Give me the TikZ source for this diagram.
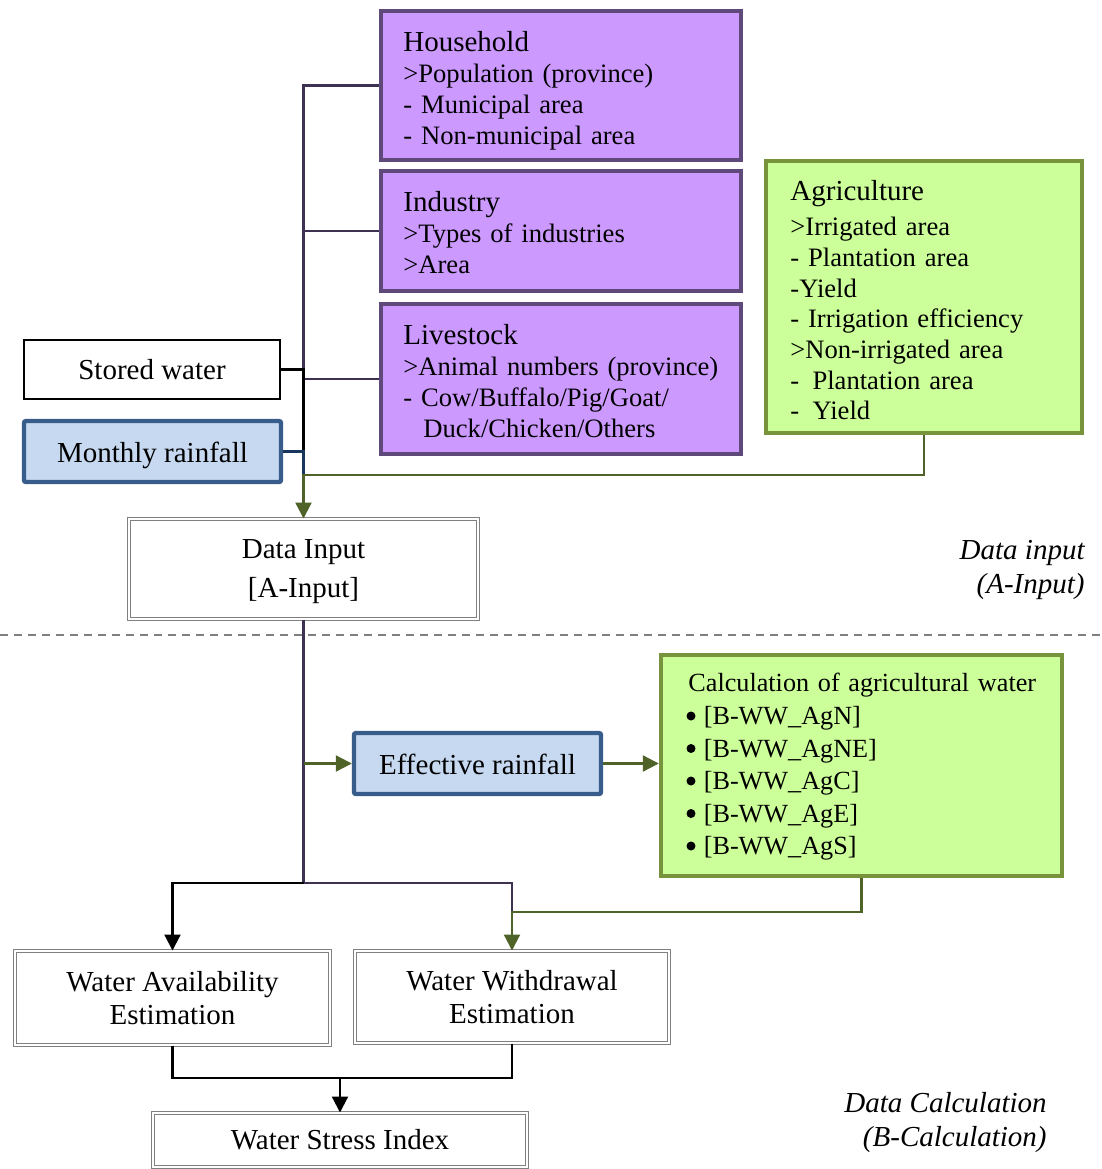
\documentclass[tikz,border=0pt]{standalone}
\usepackage{fontspec}
\setmainfont{Liberation Serif}
\usetikzlibrary{arrows.meta}
\definecolor{pfill}{HTML}{CC99FF}
\definecolor{pdraw}{HTML}{5F497A}
\definecolor{gfill}{HTML}{CCFF99}
\definecolor{gdraw}{HTML}{77933C}
\definecolor{bfill}{HTML}{C6D9F1}
\definecolor{bdraw}{HTML}{385D8A}
\definecolor{plinec}{HTML}{3F3151}
\definecolor{nlinec}{HTML}{17375E}
\definecolor{glinec}{HTML}{4F6228}
\newcommand\fsbig{\fontsize{14.5}{16.5}\selectfont}
\newcommand\fssmall{\fontsize{13.3}{15.5}\selectfont}
\newcommand\bul{\hspace*{8.7pt}}
\begin{document}
\begin{tikzpicture}[x=0.5pt,y=-0.5pt,
  every node/.style={inner ysep=0pt},
  pbox/.style={draw=pdraw,fill=pfill,line width=2.2pt,minimum width=180pt},
  gbox/.style={draw=gdraw,fill=gfill,line width=2.2pt},
  bbox/.style={draw=bdraw,fill=bfill,line width=2.2pt,rounded corners=1pt},
  kbox/.style={draw=black,fill=white,line width=1pt,align=center,font=\fsbig},
  wbox/.style={draw=gray,double=white,line width=0.5pt,double distance=0.7pt,align=center,font=\fsbig},
  btext/.style={inner sep=0pt,align=left,anchor=west,font=\fssmall},
  ctext/.style={inner sep=0pt,align=center,font=\fsbig},
  dot/.style={fill=black},
  conn/.style={line width=1.1pt},
  pl/.style={conn,draw=plinec},
  kl/.style={conn,draw=black},
  nl/.style={conn,draw=nlinec},
  gl/.style={conn,draw=glinec},
  tip/.style={-{Triangle[length=8pt,width=8pt]}},
  side/.style={inner sep=0pt,align=right,font=\fontsize{14.5}{17}\selectfont\itshape,anchor=east}
]
\useasboundingbox (0,0) rectangle (1102,1169);

% input boxes
\node[pbox,minimum height=74.5pt] (hh) at (561,85.5) {};
\node[btext,text width=158pt] (hht) at (403,90.5)
  {{\fsbig Household}\\[0pt] >Population (province)\\ - Municipal area\\ - Non-municipal area};
\node[pbox,minimum height=60pt] (ind) at (561,231) {};
\node[btext,text width=158pt] (indt) at (403,233)
  {{\fsbig Industry}\\[0pt] >Types of industries\\ >Area};
\node[pbox,minimum height=75pt] (ls) at (561,379) {};
\node[btext,text width=158pt] (lst) at (403,381)
  {{\fsbig Livestock}\\[0pt] >Animal numbers (province)\\ - Cow/Buffalo/Pig/Goat/\\ \hspace*{10pt}Duck/Chicken/Others};
\node[gbox,minimum width=158pt,minimum height=136pt] (ag) at (924,297) {};
\node[btext,text width=140pt,font=\fontsize{13.3}{15.33}\selectfont] (agt) at (790,300)
  {{\fsbig Agriculture}\\[2.5pt] >Irrigated area\\ - Plantation area\\ -Yield\\ - Irrigation efficiency\\ >Non-irrigated area\\ - \,Plantation area\\ - \,Yield};
\node[kbox,minimum width=128pt,minimum height=29.5pt] (sw) at (152,369.5) {Stored water};
\node[bbox,minimum width=128.5pt,minimum height=30.5pt] (mr) at (152.5,451.5) {};
\node[ctext] (mrt) at (152.5,455) {Monthly rainfall};

\node[wbox,minimum width=174.5pt,minimum height=50pt] (di) at (303.5,569) {};
\node[ctext,font=\fontsize{14.5}{19.5}\selectfont] (dit) at (303.5,572) {Data Input\\ {[A-Input]}};

\draw[gray,line width=0.75pt,dash pattern=on 4pt off 3pt] (0,635) -- (1102,635);

\node[side] (lab1) at (1085,570) {Data input\\ (A-Input)};

% calculation boxes
\node[bbox,minimum width=123.5pt,minimum height=30.5pt] (er) at (477.5,763.5) {};
\node[ctext] (ert) at (477.5,764.5) {Effective rainfall};
\node[gbox,minimum width=200.5pt,minimum height=110.5pt] (calc) at (861.5,765.5) {};
\node[btext,text width=180pt,font=\fontsize{13.1}{16.3}\selectfont] (calct) at (686,767)
  {\hspace*{1pt}Calculation of agricultural water\\ \bul[B-WW\_AgN]\\ \bul[B-WW\_AgNE]\\ \bul[B-WW\_AgC]\\ \bul[B-WW\_AgE]\\ \bul[B-WW\_AgS]};
\foreach \yy in {716,748.5,781,813.5,846}
  \fill[dot] (691,\yy) circle (2.25pt);

\node[wbox,minimum width=157.5pt,minimum height=47pt,font=\fontsize{14.5}{16.5}\selectfont] (wa) at (172.5,998) {Water Availability\\ Estimation};
\node[wbox,minimum width=157pt,minimum height=46pt,font=\fontsize{14.5}{16.5}\selectfont] (ww) at (512,997) {Water Withdrawal\\ Estimation};
\node[wbox,minimum width=187pt,minimum height=27pt] (wsi) at (340,1140) {Water Stress Index};

\node[side] (lab2) at (1047,1123) {Data Calculation\\ (B-Calculation)};

% junctions
\coordinate (jA) at (303.5,475);
\coordinate (jB) at (303.5,883);
\coordinate (jC) at (512,912);
\coordinate (jD) at (340,1078);

% input connectors
\draw[pl] (hh.west) -| (ls.west -| di.north);
\draw[pl] (ind.west) -- (ind.west -| di.north);
\draw[pl] (ls.west) -- (ls.west -| di.north);
\draw[kl] (sw.east) -| (mr.east -| di.north);
\draw[nl] (mr.east) -| (jA);
\draw[gl,tip] (ag.south) |- (jA) -- (di.north);

% calculation connectors
\draw[pl] (di.south) -- (jB) -| (jC);
\draw[kl,tip] (jB) -| (wa.north);
\draw[gl,tip] (calc.south) |- (jC) -- (ww.north);
\draw[gl,tip] (di.south |- er.west) -- (er.west);
\draw[gl,tip] (er.east) -- (er.east -| calc.west);
\draw[kl] (wa.south) |- (jD);
\draw[kl] (ww.south) |- (jD);
\draw[kl,tip] (jD) -- (wsi.north);
\end{tikzpicture}
\end{document}
